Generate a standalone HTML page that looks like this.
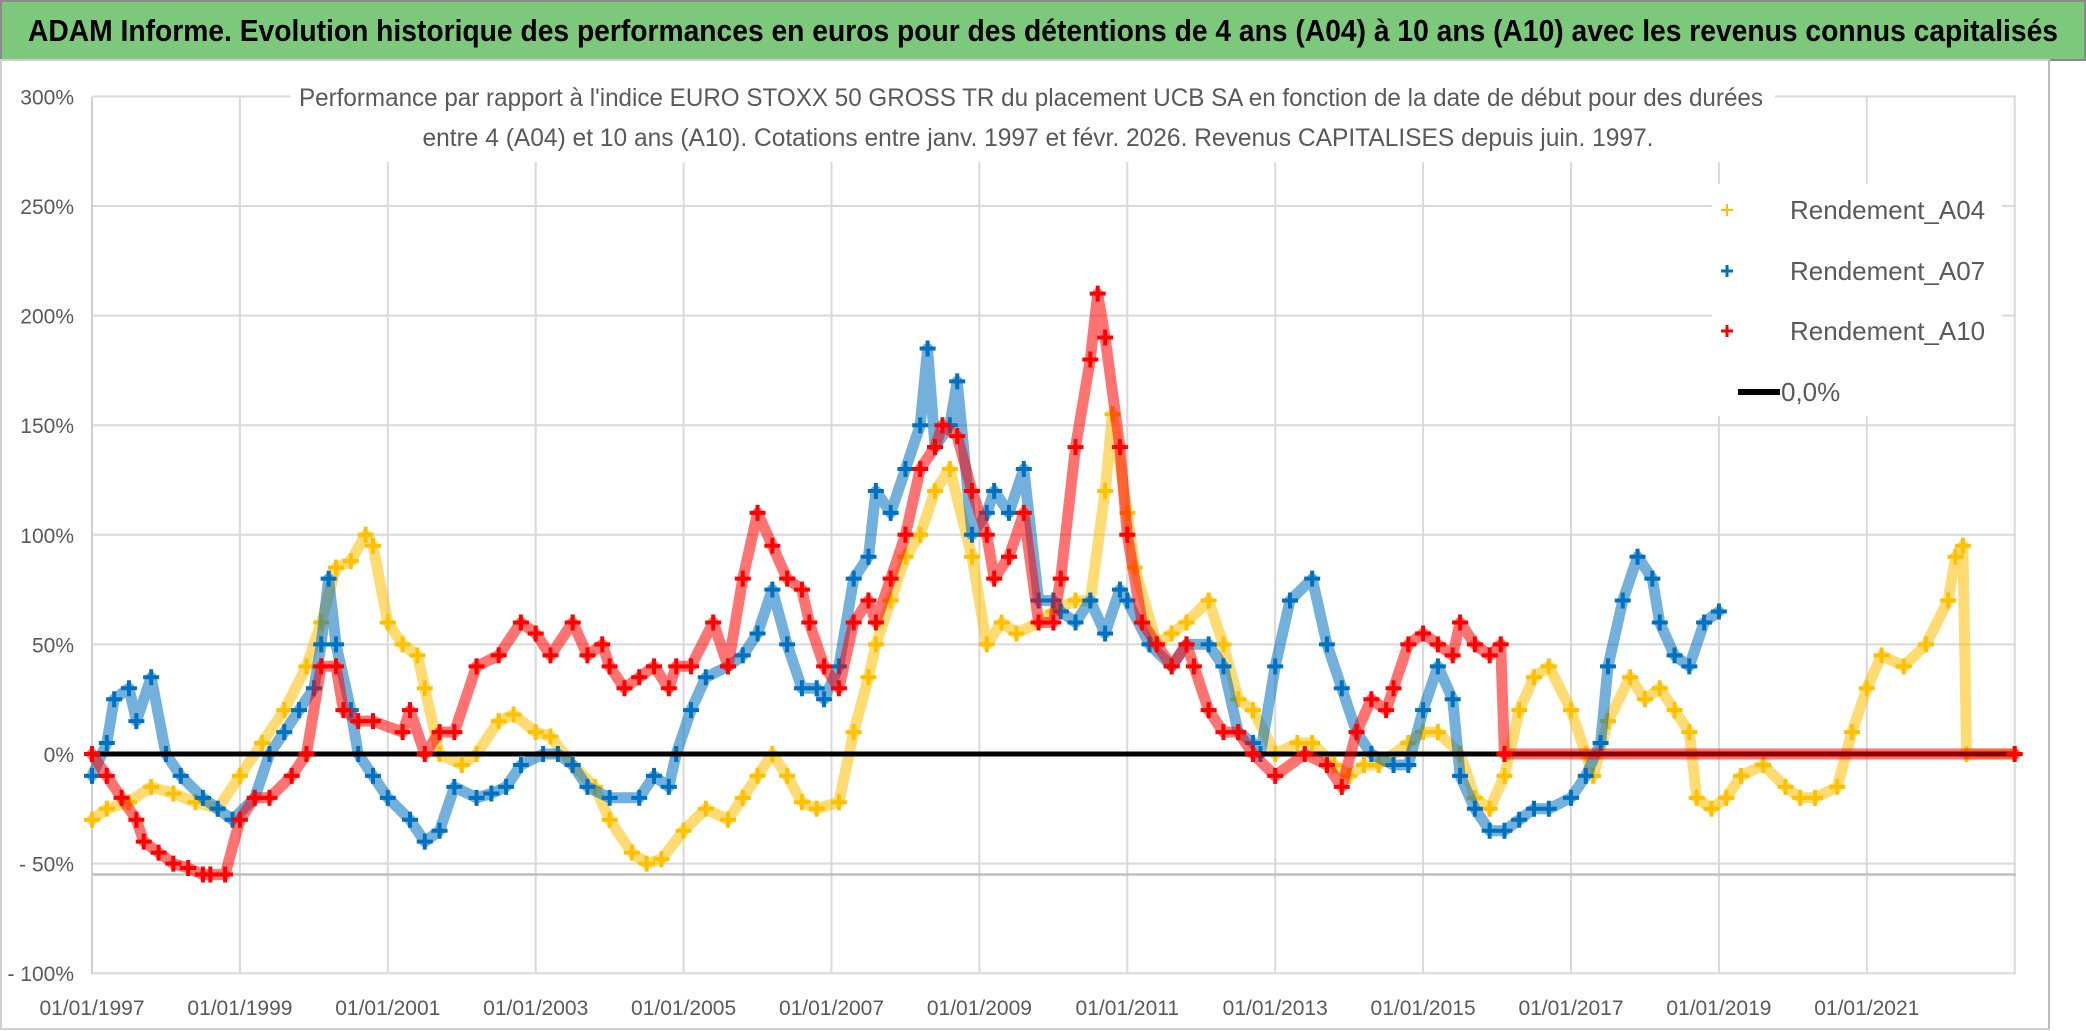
<!DOCTYPE html>
<html><head><meta charset="utf-8"><style>
html,body{margin:0;padding:0;background:#fff}
svg{display:block;font-family:"Liberation Sans",sans-serif}
</style></head><body>
<svg id="chart" width="2086" height="1031" viewBox="0 0 2086 1031" xmlns="http://www.w3.org/2000/svg">
<rect x="0" y="0" width="2086" height="1031" fill="#fff"/>
<rect x="1" y="1" width="2084" height="59" fill="#7dc97b" stroke="#8a8a8a" stroke-width="2"/>
<text x="1043" y="41" text-anchor="middle" font-size="31" font-weight="bold" fill="#000" textLength="2030" lengthAdjust="spacingAndGlyphs">ADAM Informe. Evolution historique des performances en euros pour des détentions de 4 ans (A04) à 10 ans (A10) avec les revenus connus capitalisés</text>
<rect x="1" y="60" width="2048" height="969" fill="none" stroke="#d0d0d0" stroke-width="2"/>
<line x1="2049" y1="60" x2="2049" y2="1029" stroke="#bbb" stroke-width="2"/>
<g id="grid"></g>
<g id="axes"></g>
<rect x="290" y="78" width="1485" height="84" fill="#fff"/>
<text x="1031" y="106" text-anchor="middle" font-size="25" fill="#595959" textLength="1464" lengthAdjust="spacingAndGlyphs">Performance par rapport à l'indice EURO STOXX 50 GROSS TR  du placement UCB SA en fonction de la date de début pour des durées</text>
<text x="1038" y="146" text-anchor="middle" font-size="25" fill="#595959" textLength="1231" lengthAdjust="spacingAndGlyphs">entre 4 (A04) et 10 ans (A10). Cotations entre janv. 1997 et févr. 2026. Revenus CAPITALISES depuis juin. 1997.</text>
<g id="series"></g>
<g>
<rect x="1712" y="184" width="290" height="232" fill="#fff"/>
<g><path d="M1721 210h12M1727 204v12" stroke="#ffc000" stroke-width="2"/><text x="1790" y="219" font-size="26" fill="#595959">Rendement_A04</text></g>
<g><path d="M1721 271h12M1727 265v12" stroke="#0070c0" stroke-width="3"/><text x="1790" y="280" font-size="26" fill="#595959">Rendement_A07</text></g>
<g><path d="M1721 331h12M1727 325v12" stroke="#ff0000" stroke-width="3"/><text x="1790" y="340" font-size="26" fill="#595959">Rendement_A10</text></g>
<g><line x1="1738" y1="392" x2="1780" y2="392" stroke="#000" stroke-width="6"/><text x="1781" y="401" font-size="26" fill="#595959">0,0%</text></g>
</g>
</svg>
<script>
const yTicks=[300,250,200,150,100,50,0,-50,-100];
const yTickLabels=["300%","250%","200%","150%","100%","50%","0%","- 50%","- 100%"];
const xTicks=[1997,1999,2001,2003,2005,2007,2009,2011,2013,2015,2017,2019,2021];
const xTickLabels=["01/01/1997","01/01/1999","01/01/2001","01/01/2003","01/01/2005","01/01/2007","01/01/2009","01/01/2011","01/01/2013","01/01/2015","01/01/2017","01/01/2019","01/01/2021"];
const refLevel=-55;
const datesA04=[1997.0,1997.2,1997.5,1997.8,1998.1,1998.4,1998.7,1999.0,1999.3,1999.6,1999.9,2000.1,2000.3,2000.5,2000.7,2000.8,2001.0,2001.2,2001.4,2001.5,2001.7,2002.0,2002.2,2002.5,2002.7,2003.0,2003.2,2003.5,2003.8,2004.0,2004.3,2004.5,2004.7,2005.0,2005.3,2005.6,2005.8,2006.0,2006.2,2006.4,2006.6,2006.8,2007.1,2007.3,2007.5,2007.6,2007.8,2008.0,2008.2,2008.4,2008.6,2008.9,2009.1,2009.3,2009.5,2009.8,2010.0,2010.3,2010.5,2010.7,2010.8,2011.0,2011.1,2011.4,2011.6,2011.8,2012.1,2012.3,2012.5,2012.7,2013.0,2013.3,2013.5,2013.8,2014.0,2014.2,2014.4,2014.8,2015.0,2015.2,2015.5,2015.7,2015.9,2016.1,2016.3,2016.5,2016.7,2017.0,2017.2,2017.3,2017.5,2017.8,2018.0,2018.2,2018.4,2018.6,2018.7,2018.9,2019.1,2019.3,2019.6,2019.9,2020.1,2020.3,2020.6,2020.8,2021.0,2021.2,2021.5,2021.8,2022.1,2022.2,2022.3,2022.35,2023.0];
const valsA04=[-30,-25,-22,-15,-18,-22,-25,-10,5,20,40,60,85,88,100,95,60,50,45,30,0,-5,0,15,18,10,8,-5,-15,-30,-45,-50,-48,-35,-25,-30,-20,-10,0,-10,-22,-25,-22,10,35,50,70,90,100,120,130,90,50,60,55,60,65,70,70,120,155,110,85,50,55,60,70,50,25,20,0,5,5,-5,-10,-5,-5,5,10,10,0,-20,-25,-10,20,35,40,20,0,-10,15,35,25,30,20,10,-20,-25,-20,-10,-5,-15,-20,-20,-15,10,30,45,40,50,70,90,95,0,0];
const datesA07=[1997.0,1997.2,1997.3,1997.5,1997.6,1997.8,1998.0,1998.2,1998.5,1998.7,1998.9,1999.2,1999.4,1999.6,1999.8,2000.0,2000.1,2000.2,2000.3,2000.5,2000.6,2000.8,2001.0,2001.3,2001.5,2001.7,2001.9,2002.2,2002.4,2002.6,2002.8,2003.1,2003.3,2003.5,2003.7,2004.0,2004.4,2004.6,2004.8,2004.9,2005.1,2005.3,2005.6,2005.8,2006.0,2006.2,2006.4,2006.6,2006.8,2006.9,2007.1,2007.3,2007.5,2007.6,2007.8,2008.0,2008.2,2008.3,2008.4,2008.6,2008.7,2008.9,2009.1,2009.2,2009.4,2009.6,2009.8,2010.0,2010.1,2010.3,2010.5,2010.7,2010.9,2011.0,2011.3,2011.6,2011.8,2012.1,2012.3,2012.5,2012.7,2012.8,2013.0,2013.2,2013.5,2013.7,2013.9,2014.1,2014.3,2014.6,2014.8,2015.0,2015.2,2015.4,2015.5,2015.7,2015.9,2016.1,2016.3,2016.5,2016.7,2017.0,2017.2,2017.4,2017.5,2017.7,2017.9,2018.1,2018.2,2018.4,2018.6,2018.8,2019.0];
const valsA07=[-10,5,25,30,15,35,0,-10,-20,-25,-30,-20,0,10,20,30,50,80,50,20,0,-10,-20,-30,-40,-35,-15,-20,-18,-15,-5,0,0,-5,-15,-20,-20,-10,-15,0,20,35,40,45,55,75,50,30,30,25,40,80,90,120,110,130,150,185,140,150,170,100,110,120,110,130,70,70,65,60,70,55,75,70,50,40,50,50,40,10,5,0,40,70,80,50,30,10,0,-5,-5,20,40,25,-10,-25,-35,-35,-30,-25,-25,-20,-10,5,40,70,90,80,60,45,40,60,65];
const datesA10=[1997.0,1997.2,1997.4,1997.6,1997.7,1997.9,1998.1,1998.3,1998.5,1998.6,1998.8,1999.0,1999.2,1999.4,1999.7,1999.9,2000.1,2000.3,2000.4,2000.6,2000.8,2001.2,2001.3,2001.5,2001.7,2001.9,2002.2,2002.5,2002.8,2003.0,2003.2,2003.5,2003.7,2003.9,2004.0,2004.2,2004.4,2004.6,2004.8,2004.9,2005.1,2005.4,2005.6,2005.8,2006.0,2006.2,2006.4,2006.6,2006.7,2006.9,2007.1,2007.3,2007.5,2007.6,2007.8,2008.0,2008.2,2008.4,2008.5,2008.7,2008.9,2009.1,2009.2,2009.4,2009.6,2009.8,2010.0,2010.1,2010.3,2010.5,2010.6,2010.7,2010.9,2011.0,2011.2,2011.4,2011.6,2011.8,2011.9,2012.1,2012.3,2012.5,2012.7,2013.0,2013.4,2013.7,2013.9,2014.1,2014.3,2014.5,2014.6,2014.8,2015.0,2015.2,2015.4,2015.5,2015.7,2015.9,2016.05,2016.1,2023.0];
const valsA10=[0,-10,-20,-30,-40,-45,-50,-52,-55,-55,-55,-30,-20,-20,-10,0,40,40,20,15,15,10,20,0,10,10,40,45,60,55,45,60,45,50,40,30,35,40,30,40,40,60,40,80,110,95,80,75,60,40,30,60,70,60,80,100,130,140,150,145,120,100,80,90,110,60,60,80,140,180,210,190,140,100,60,50,40,50,40,20,10,10,0,-10,0,-5,-15,10,25,20,30,50,55,50,45,60,50,45,50,0,0];

const X0=92, PX_PER_YEAR=73.95, Y0=754, PX_PER_PCT=2.192;
const TOP=97, BOTTOM=974, RIGHT=2016;
function xScale(yr){return X0+(yr-1997)*PX_PER_YEAR;}
function yScale(v){return Y0-v*PX_PER_PCT;}
const NS="http://www.w3.org/2000/svg";
function mk(tag,attrs,parent){const e=document.createElementNS(NS,tag);for(const k in attrs)e.setAttribute(k,attrs[k]);parent.appendChild(e);return e;}
const grid=document.getElementById('grid'), axes=document.getElementById('axes'), series=document.getElementById('series');

yTicks.forEach((t,i)=>{
  const y=yScale(t);
  const l=mk('line',{x1:X0,y1:y,x2:RIGHT,y2:y,stroke:'#d9d9d9','stroke-width':2},grid);
  
  
  const tx=mk('text',{x:74,y:y+8,'text-anchor':'end','font-size':21,fill:'#595959'},axes);
  tx.textContent=yTickLabels[i];
  
  
});
xTicks.forEach((t,i)=>{
  const x=xScale(t);
  const l=mk('line',{x1:x,y1:TOP,x2:x,y2:BOTTOM,stroke:'#d9d9d9','stroke-width':2},grid);
  
  
  const tx=mk('text',{x:x,y:1015,'text-anchor':'middle','font-size':21,fill:'#595959'},axes);
  tx.textContent=xTickLabels[i];
  
  
});
{
  const l=mk('line',{x1:xScale(2023),y1:TOP,x2:xScale(2023),y2:BOTTOM,stroke:'#d9d9d9','stroke-width':2},grid);
  
  
  const a=mk('line',{x1:X0,y1:TOP,x2:X0,y2:BOTTOM,stroke:'#d0d0d0','stroke-width':2},grid);
  
  
  const r=mk('line',{x1:X0,y1:yScale(refLevel),x2:RIGHT,y2:yScale(refLevel),stroke:'#bfbfbf','stroke-width':2.5},grid);
  
  
}

function drawSeries(dates,vals,color,name,sw){
  const g=mk('g',{},series);
  
  
  const pts=dates.map((d,i)=>xScale(d).toFixed(1)+','+yScale(vals[i]).toFixed(1)).join(' ');
  const band=mk('polyline',{points:pts,fill:'none',stroke:color,'stroke-width':sw,'stroke-opacity':0.55,'stroke-linejoin':'round','stroke-linecap':'round'},g);
  
  
  dates.forEach((d,i)=>{
    const x=xScale(d), y=yScale(vals[i]);
    const p=mk('path',{d:`M${x-8} ${y}h16M${x} ${y-8}v16`,stroke:color,'stroke-width':4},g);
    
    
  });
}
drawSeries(datesA04,valsA04,'#ffc000','series-a04',11);
drawSeries(datesA07,valsA07,'#0070c0','series-a07',11);
{
  const z=mk('line',{x1:X0,y1:yScale(0),x2:RIGHT,y2:yScale(0),stroke:'#000','stroke-width':5},series);
  
  
}
drawSeries(datesA10,valsA10,'#ff0000','series-a10',11);
</script>
</body></html>
